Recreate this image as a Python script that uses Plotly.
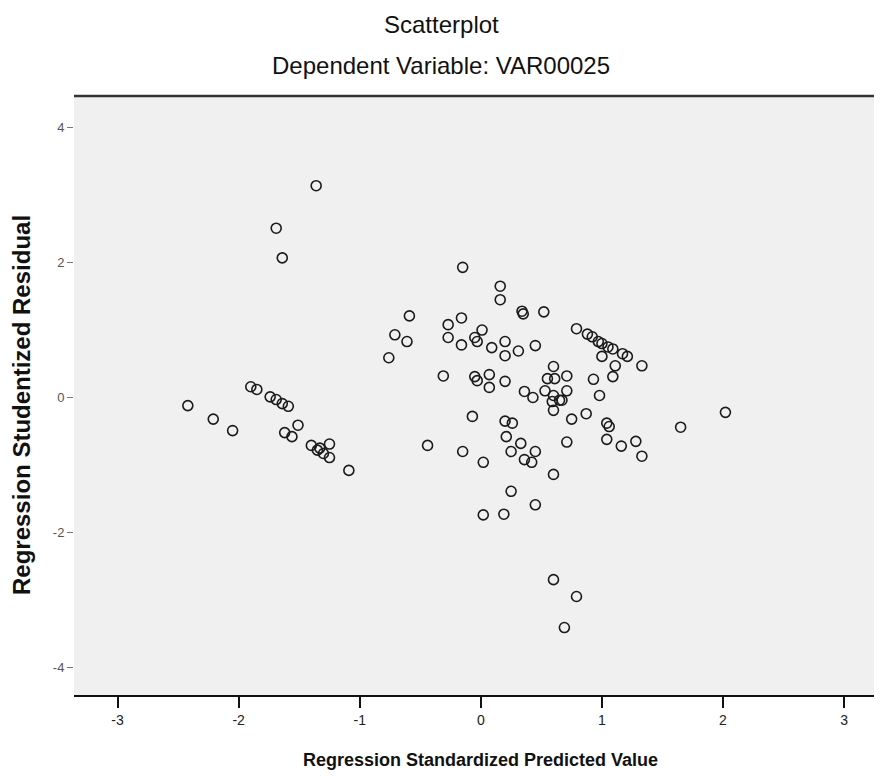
import plotly.graph_objects as go

# Regression Standardized Predicted Value
pred = [-2.42, -2.21, -2.05, -1.90, -1.85, -1.74, -1.69, -1.64, -1.59, -1.51,
        -1.62, -1.56, -1.40, -1.35, -1.25, -1.30, -1.25, -1.09, -1.33,
        -1.36, -1.69, -1.64,
        -0.71, -0.76, -0.59, -0.61,
        -0.15, 0.16, 0.16, 0.34, 0.35, 0.52, -0.16, -0.27, -0.27, -0.16,
        -0.05, 0.01, -0.03, 0.09, 0.20, 0.20, 0.31, 0.45, -0.31, -0.05,
        -0.03, 0.07, 0.07, 0.20, 0.60, 0.55, 0.61, 0.71, 0.53, 0.60,
        0.71, 0.65, 0.36, 0.43, 0.60, -0.07, 0.20, 0.26, 0.75, 0.87,
        0.21, 0.33, 0.25, 0.45, 0.36, 0.42, -0.44, -0.15, 0.02, 0.71,
        0.60, 0.25, 0.45, 0.02, 0.19, 0.60, 0.79, 0.69,
        0.79, 0.88, 1.00, 1.05, 1.09, 1.17, 1.21, 1.00, 1.11, 1.09,
        1.33, 0.93, 0.98, 1.04, 1.06, 1.04, 1.16, 1.28, 1.33, 1.65,
        2.02, 0.92, 0.97, 0.59, 0.67]

# Regression Studentized Residual
resid = [-0.12, -0.32, -0.49, 0.16, 0.12, 0.01, -0.03, -0.09, -0.13, -0.41,
         -0.52, -0.58, -0.71, -0.78, -0.69, -0.83, -0.89, -1.08, -0.75,
         3.14, 2.51, 2.07,
         0.93, 0.59, 1.21, 0.83,
         1.93, 1.65, 1.45, 1.28, 1.24, 1.27, 1.18, 1.08, 0.89, 0.78,
         0.89, 1.00, 0.83, 0.74, 0.83, 0.62, 0.69, 0.77, 0.32, 0.31,
         0.25, 0.34, 0.15, 0.24, 0.46, 0.28, 0.28, 0.32, 0.10, 0.03,
         0.10, -0.04, 0.09, 0.00, -0.19, -0.28, -0.35, -0.38, -0.32, -0.24,
         -0.58, -0.68, -0.80, -0.80, -0.92, -0.96, -0.71, -0.80, -0.96, -0.66,
         -1.14, -1.39, -1.59, -1.74, -1.73, -2.70, -2.95, -3.41,
         1.02, 0.94, 0.80, 0.75, 0.72, 0.65, 0.61, 0.61, 0.47, 0.31,
         0.47, 0.27, 0.03, -0.38, -0.43, -0.62, -0.72, -0.65, -0.87, -0.44,
         -0.22, 0.90, 0.83, -0.06, -0.04]

x_ticks = [-3, -2, -1, 0, 1, 2, 3]
y_ticks = [-4, -2, 0, 2, 4]

title_text = "Scatterplot"
subtitle_text = "Dependent Variable: VAR00025"
x_title = "Regression Standardized Predicted Value"
y_title = "Regression Studentized Residual"

FONT = "Liberation Sans, Arial, sans-serif"

fig = go.Figure()
fig.add_trace(go.Scatter(
    x=pred, y=resid, mode="markers",
    marker=dict(symbol="circle-open", size=10, color="#1a1a1a",
                line=dict(width=1.6, color="#1a1a1a")),
    hoverinfo="x+y", showlegend=False,
))

# page body adds an 8px offset; size the figure to fill the window
OFF = 8
W, H = 882 - OFF, 776 - OFF
PANEL_L, PANEL_R, PANEL_T, PANEL_B = 74, 878, 96, 695  # absolute page px
L = PANEL_L - OFF
T = PANEL_T - OFF
R = W - (PANEL_R - OFF)
B = H - (PANEL_B - OFF)
pw, ph = W - L - R, H - T - B


def px_to_paper_x(px):
    return (px - OFF - L) / pw


def px_to_paper_y(py):
    return (H - B - (py - OFF)) / ph


fig.update_layout(
    width=W, height=H,
    margin=dict(l=L, r=R, t=T, b=B),
    paper_bgcolor="white",
    plot_bgcolor="#f0f0f0",
    font=dict(family=FONT, color="#111"),
    xaxis=dict(
        range=[-3.36, 3.28], tickvals=x_ticks, ticktext=[str(v) for v in x_ticks],
        showgrid=False, zeroline=False, showline=True, linecolor="#111",
        linewidth=2, ticks="outside", ticklen=11, tickwidth=1.5, tickcolor="#111",
        tickfont=dict(size=14, color="#222", family=FONT),
    ),
    yaxis=dict(
        range=[-4.41, 4.47], tickvals=y_ticks, ticktext=[str(v) for v in y_ticks],
        showgrid=False, zeroline=False, showline=False,
        ticks="outside", ticklen=6, tickwidth=1.2, tickcolor="#777",
        tickfont=dict(size=13, color="#555", family=FONT),
    ),
    shapes=[dict(type="line", xref="paper", yref="paper",
                 x0=0, x1=1.01, y0=1.0, y1=1.0,
                 line=dict(color="#333", width=2.5))],
    annotations=[
        dict(text=title_text, xref="paper", yref="paper",
             x=px_to_paper_x(441), y=px_to_paper_y(24), xanchor="center",
             yanchor="middle", showarrow=False,
             font=dict(size=24, color="#111", family=FONT)),
        dict(text=subtitle_text, xref="paper", yref="paper",
             x=px_to_paper_x(441), y=px_to_paper_y(66), xanchor="center",
             yanchor="middle", showarrow=False,
             font=dict(size=24, color="#111", family=FONT)),
        dict(text="<b>" + x_title + "</b>", xref="paper", yref="paper",
             x=px_to_paper_x(480), y=px_to_paper_y(760), xanchor="center",
             yanchor="middle", showarrow=False,
             font=dict(size=18, color="#111", family=FONT)),
        dict(text="<b>" + y_title + "</b>", xref="paper", yref="paper",
             x=px_to_paper_x(22), y=px_to_paper_y(405), xanchor="center",
             yanchor="middle", showarrow=False, textangle=-90,
             font=dict(size=24, color="#111", family=FONT)),
    ],
)

fig.write_html("out.html")
